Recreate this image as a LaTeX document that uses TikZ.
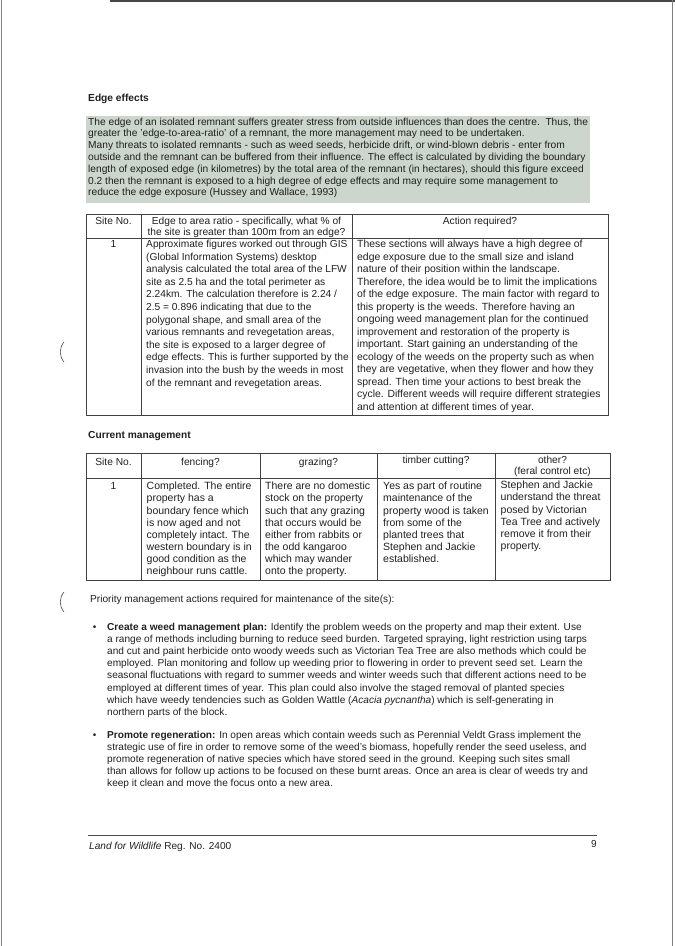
\documentclass[tikz,border=0pt]{standalone}
\usepackage{fontspec}
\setmainfont{Liberation Sans}
\usetikzlibrary{positioning}
\definecolor{ink}{RGB}{32,32,32}
\definecolor{boxgreen}{RGB}{204,214,204}
\definecolor{scan}{RGB}{70,70,70}

\begin{document}
\begin{tikzpicture}[x=1pt, y=-1pt,
    txt/.style={inner sep=0pt, anchor=north west, align=left, text=ink,
        font=\fontsize{10.2}{12.5}\selectfont},
    cell/.style={txt, font=\fontsize{10.5}{12.1}\selectfont},
    hd/.style={inner sep=0pt, anchor=north, align=center, text=ink,
        font=\fontsize{10.2}{11}\selectfont},
    title/.style={inner sep=0pt, anchor=north west, text=ink,
        font=\fontsize{10.2}{12}\selectfont\bfseries},
    body/.style={txt, font=\fontsize{10.1}{12.1}\selectfont},
    dot/.style={inner sep=0pt, anchor=center, text=ink, font=\fontsize{10}{12}\selectfont},
    grid/.style={draw=ink!85, line width=0.75pt},
    ]
    \useasboundingbox (0,0) rectangle (675,946);

    % edges of the scan
    \draw[scan, line width=2.5pt] (110,0.8) -- (675,0.8);
    \draw[scan!70, line width=0.6pt] (1,0) -- (1,946);
    \draw[scan!70, line width=0.6pt] (672,0) -- (672,946);
    \draw[scan, line width=0.6pt] (64,342) .. controls (59,348) and (59,356) .. (64,362);
    \draw[scan, line width=0.6pt] (64,592) .. controls (59,598) and (59,606) .. (64,612);

    \node (edgehead) [title] at (88,93.5) {Edge effects};

    \fill[boxgreen] (86,116) rectangle (590,203);
    \node (edgetxt) [txt, font=\fontsize{10.2}{11.8}\selectfont] at (88,117.5) {%
        The edge of an isolated remnant suffers greater stress from outside influences than does the centre.\ \ Thus, the\\
        greater the 'edge-to-area-ratio' of a remnant, the more management may need to be undertaken.\\
        Many threats to isolated remnants - such as weed seeds, herbicide drift, or wind-blown debris - enter from\\
        outside and the remnant can be buffered from their influence. The effect is calculated by dividing the boundary\\
        length of exposed edge (in kilometres) by the total area of the remnant (in hectares), should this figure exceed\\
        0.2 then the remnant is exposed to a high degree of edge effects and may require some management to\\
        reduce the edge exposure (Hussey and Wallace, 1993)};

    % edge to area table
    \draw[grid] (86,214) rectangle (608,415);
    \draw[grid] (86,238) -- (608,238);
    \draw[grid] (141,214) -- (141,415);
    \draw[grid] (352,214) -- (352,415);
    \node (sitehd) [hd] at (113.5,217) {Site No.};
    \node (ratiohd) [hd] at (246.5,217) {Edge to area ratio - specifically, what \% of\\the site is greater than 100m from an edge?};
    \node (actionhd) [hd] at (480,217) {Action required?};
    \node (site) [hd] at (113.5,240) {1};
    \node (ratio) [txt, font=\fontsize{10.2}{12.6}\selectfont] at (146,240) {%
        Approximate figures worked out through GIS\\
        (Global Information Systems) desktop\\
        analysis calculated the total area of the LFW\\
        site as 2.5 ha and the total perimeter as\\
        2.24km. The calculation therefore is 2.24 /\\
        2.5 = 0.896 indicating that due to the\\
        polygonal shape, and small area of the\\
        various remnants and revegetation areas,\\
        the site is exposed to a larger degree of\\
        edge effects. This is further supported by the\\
        invasion into the bush by the weeds in most\\
        of the remnant and revegetation areas.};
    \node (action) [txt, font=\fontsize{10.4}{12.5}\selectfont] at (357,240) {%
        These sections will always have a high degree of\\
        edge exposure due to the small size and island\\
        nature of their position within the landscape.\\
        Therefore, the idea would be to limit the implications\\
        of the edge exposure. The main factor with regard to\\
        this property is the weeds. Therefore having an\\
        ongoing weed management plan for the continued\\
        improvement and restoration of the property is\\
        important. Start gaining an understanding of the\\
        ecology of the weeds on the property such as when\\
        they are vegetative, when they flower and how they\\
        spread. Then time your actions to best break the\\
        cycle. Different weeds will require different strategies\\
        and attention at different times of year.};

    \node (mgmthead) [title] at (88,431.5) {Current management};

    % current management table
    \draw[grid] (86,453) rectangle (610,580);
    \draw[grid] (86,478) -- (610,478);
    \foreach \x in {141,260,377,495}
        \draw[grid] (\x,453) -- (\x,580);
    \node (site2hd) [hd] at (113.5,457.5) {Site No.};
    \node (fencehd) [hd] at (200.5,457.5) {fencing?};
    \node (grazehd) [hd] at (318.5,457.5) {grazing?};
    \node (timberhd) [hd] at (436,455.5) {timber cutting?};
    \node (otherhd) [hd] at (552.5,455.5) {other?\\(feral control etc)};
    \node (site2) [hd] at (113.5,482) {1};
    \node (fence) [cell] at (146.5,482) {%
        Completed. The entire\\
        property has a\\
        boundary fence which\\
        is now aged and not\\
        completely intact. The\\
        western boundary is in\\
        good condition as the\\
        neighbour runs cattle.};
    \node (graze) [cell] at (265,482) {%
        There are no domestic\\
        stock on the property\\
        such that any grazing\\
        that occurs would be\\
        either from rabbits or\\
        the odd kangaroo\\
        which may wander\\
        onto the property.};
    \node (timber) [cell] at (383,482) {%
        Yes as part of routine\\
        maintenance of the\\
        property wood is taken\\
        from some of the\\
        planted trees that\\
        Stephen and Jackie\\
        established.};
    \node (other) [cell] at (500.5,481) {%
        Stephen and Jackie\\
        understand the threat\\
        posed by Victorian\\
        Tea Tree and actively\\
        remove it from their\\
        property.};

    \node (priority) [body] at (90,595) {Priority management actions required for maintenance of the site(s):};

    \node (weeds) [body] at (107,623) {%
        \textbf{Create a weed management plan:} Identify the problem weeds on the property and map their extent. Use\\
        a range of methods including burning to reduce seed burden. Targeted spraying, light restriction using tarps\\
        and cut and paint herbicide onto woody weeds such as Victorian Tea Tree are also methods which could be\\
        employed. Plan monitoring and follow up weeding prior to flowering in order to prevent seed set. Learn the\\
        seasonal fluctuations with regard to summer weeds and winter weeds such that different actions need to be\\
        employed at different times of year. This plan could also involve the staged removal of planted species\\
        which have weedy tendencies such as Golden Wattle (\textit{Acacia pycnantha}) which is self-generating in\\
        northern parts of the block.};
    \node (dot1) [dot] at (94.5,628.5) {\textbullet};

    \node (regen) [body] at (107,731) {%
        \textbf{Promote regeneration:} In open areas which contain weeds such as Perennial Veldt Grass implement the\\
        strategic use of fire in order to remove some of the weed's biomass, hopefully render the seed useless, and\\
        promote regeneration of native species which have stored seed in the ground. Keeping such sites small\\
        than allows for follow up actions to be focused on these burnt areas. Once an area is clear of weeds try and\\
        keep it clean and move the focus onto a new area.};
    \node (dot2) [dot] at (94.5,736.5) {\textbullet};

    % footer
    \coordinate (footl) at (88,835);
    \coordinate (footr) at (597,835);
    \draw[ink!80, line width=0.8pt] (footl) -- (footr);
    \node (footer) [body] at (89,841.5) {\textit{Land for Wildlife} Reg. No. 2400};
    \node (page) [body, anchor=north east] at (597,840.5) {9};
\end{tikzpicture}
\end{document}
